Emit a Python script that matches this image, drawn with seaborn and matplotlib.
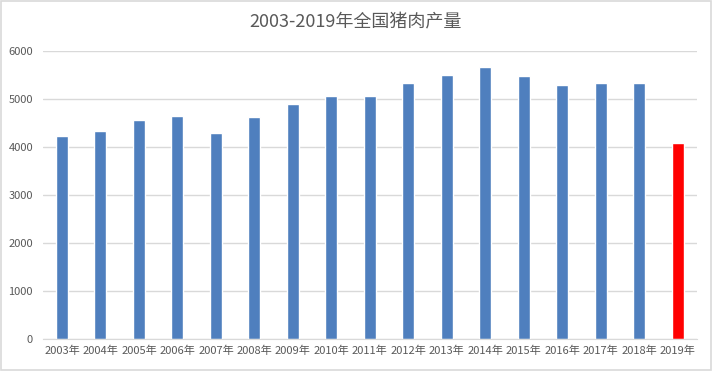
import matplotlib
matplotlib.use('Agg')
import matplotlib.pyplot as plt
import seaborn as sns
import pandas as pd
from matplotlib.patches import Rectangle

years = ['2003年', '2004年', '2005年', '2006年', '2007年', '2008年', '2009年', '2010年', '2011年',
         '2012年', '2013年', '2014年', '2015年', '2016年', '2017年', '2018年', '2019年']
output = [4239, 4341, 4555, 4650, 4288, 4621, 4891, 5071, 5053,
          5343, 5493, 5671, 5487, 5299, 5340, 5339, 4075]
colors = ['#4f7fbe'] * 16 + ['#ff0000']

df = pd.DataFrame({'year': years, 'output': output})

sns.set_style('white')
plt.rcParams['font.family'] = ['Noto Sans CJK SC', 'DejaVu Sans']

fig = plt.figure(figsize=(7.12, 3.71), dpi=100)
ax = fig.add_axes([0.060, 0.0863, 0.919, 0.7762])
sns.barplot(x='year', y='output', data=df, hue='year', palette=colors, legend=False,
            width=0.31, ax=ax, saturation=1)

ax.set_ylim(0, 6000)
ax.set_yticks(range(0, 6001, 1000))
ax.set_xlim(-0.5, len(years) - 0.5)
ax.grid(axis='y', color='#d9d9d9', linewidth=1)
ax.set_axisbelow(True)
for s in ['top', 'right', 'left']:
    ax.spines[s].set_visible(False)
ax.spines['bottom'].set_color('#d9d9d9')
ax.tick_params(axis='x', length=0, pad=5, labelsize=8, labelcolor='#595959')
ax.tick_params(axis='y', length=0, pad=7, labelsize=8, labelcolor='#595959')
ax.set_xlabel('')
ax.set_ylabel('')
fig.suptitle('2003-2019年全国猪肉产量', y=0.965, fontsize=13, color='#595959')

fig.patches.append(Rectangle((0.001, 0.002), 0.997, 0.995, transform=fig.transFigure,
                             fill=False, edgecolor='#d9d9d9', linewidth=1.2))

plt.savefig('out.png', dpi=100)
